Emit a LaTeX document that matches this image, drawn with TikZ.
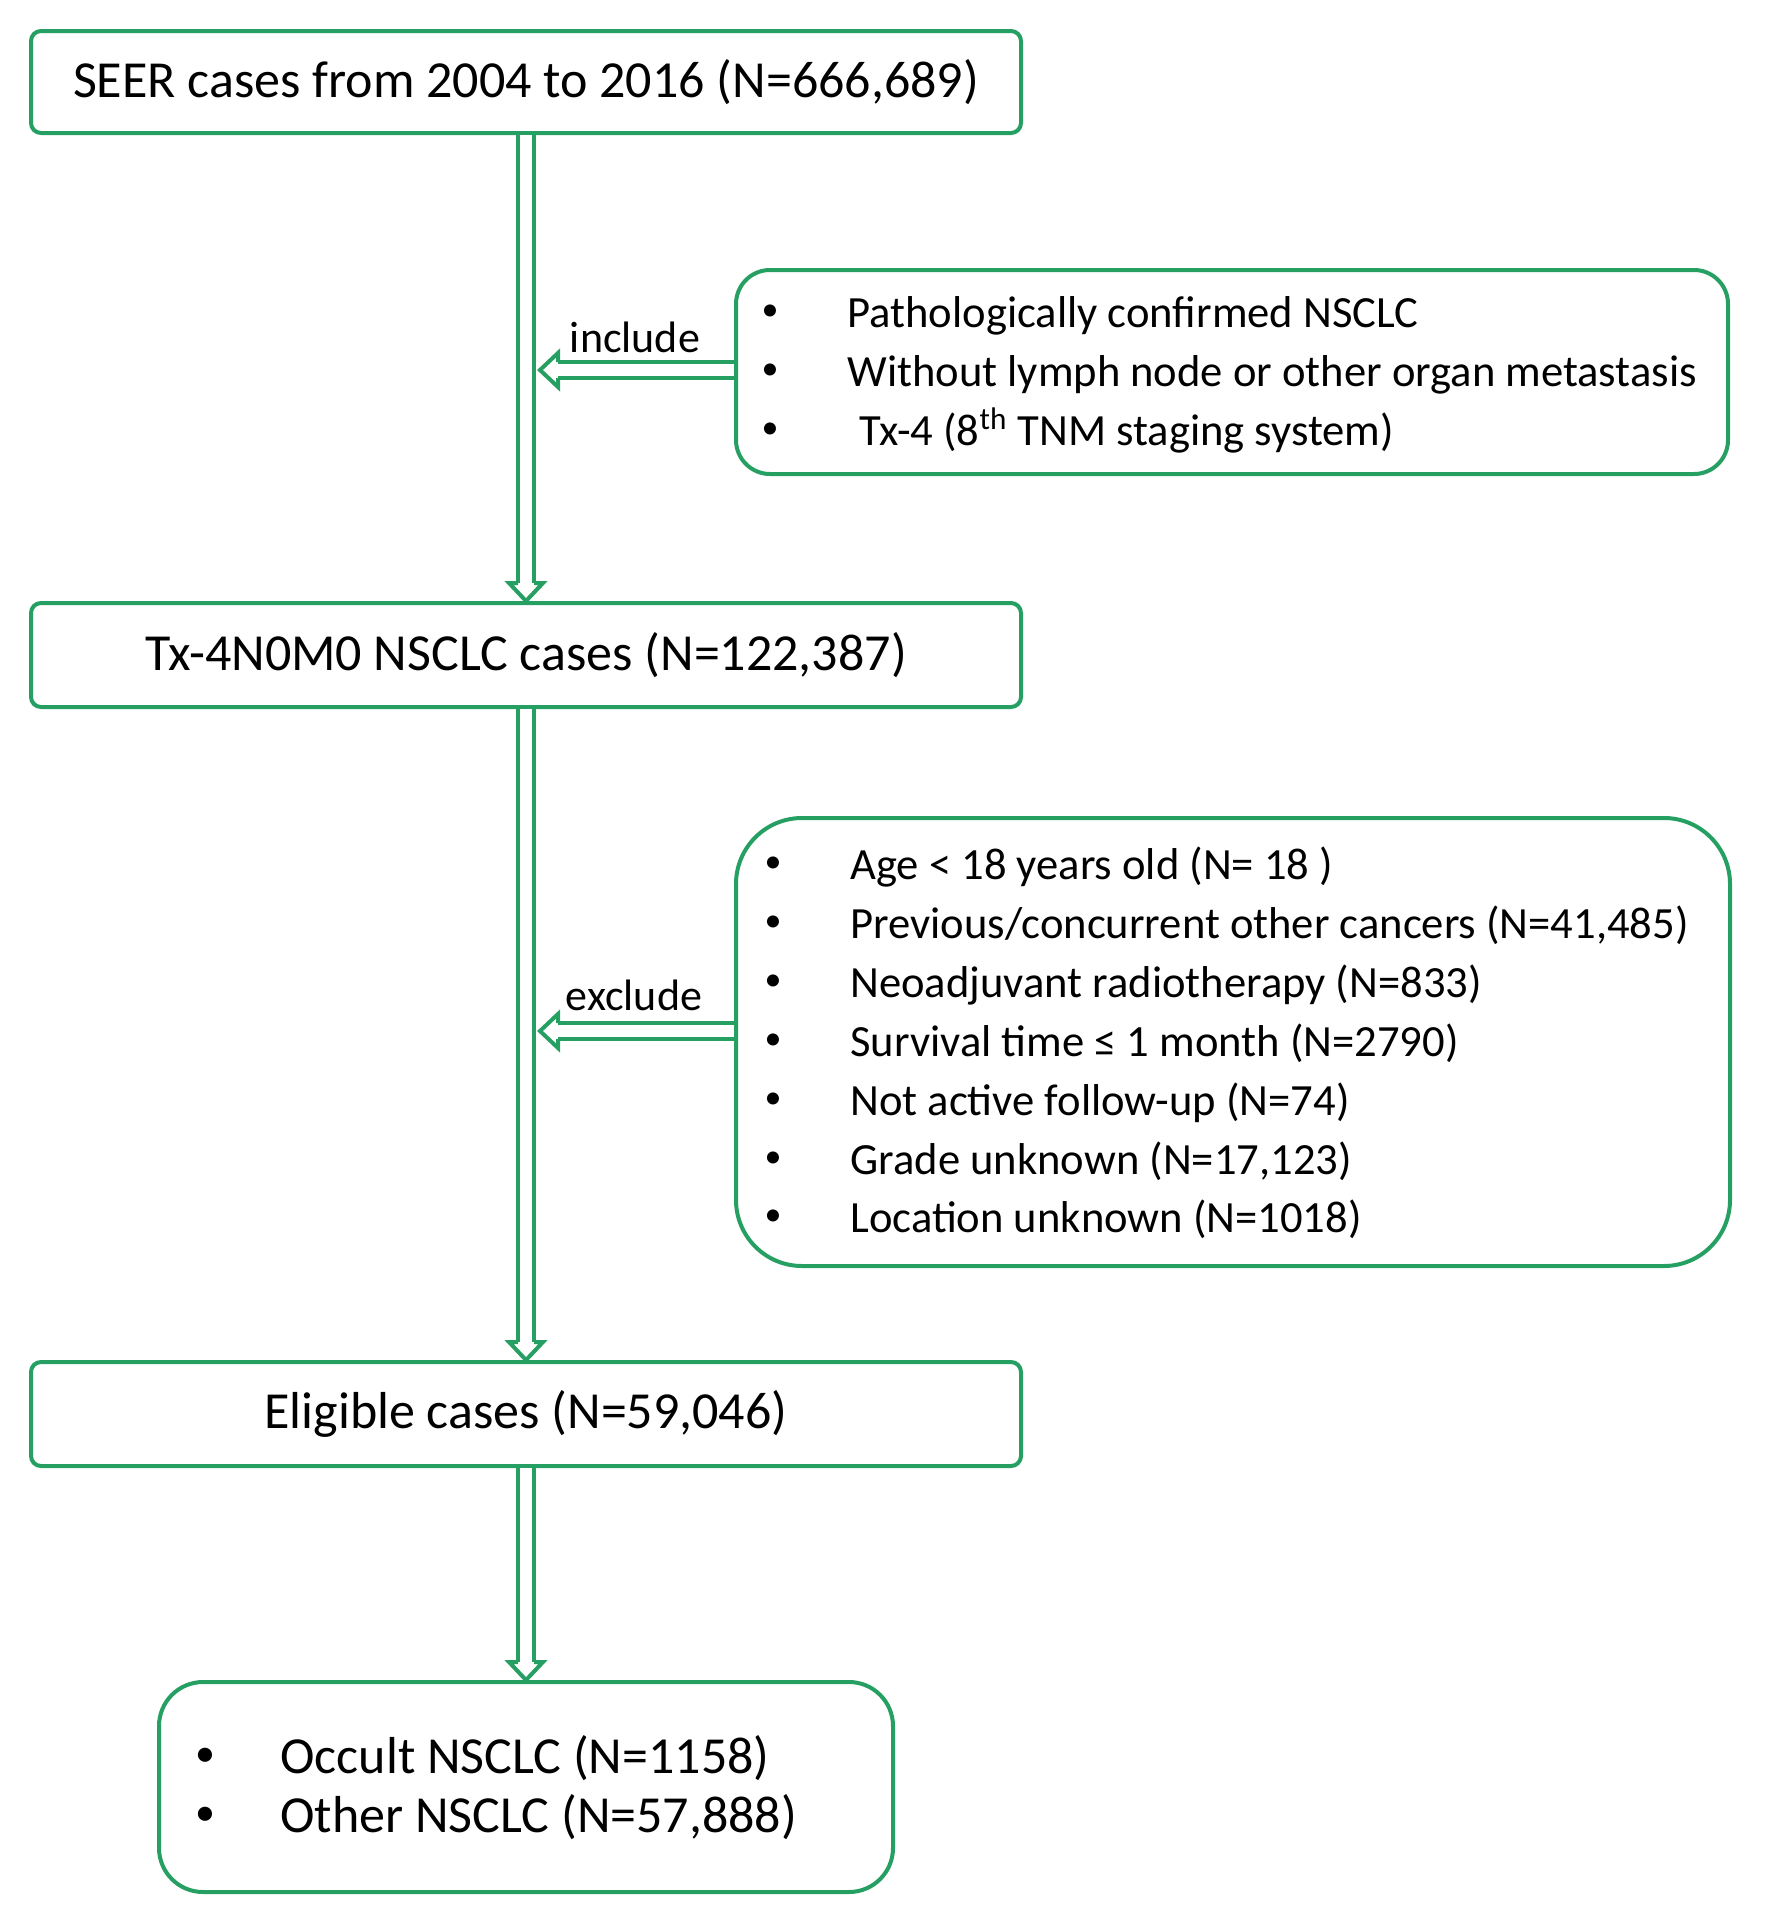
\documentclass[tikz,border=0pt]{standalone}
\usepackage{fontspec}
\setmainfont{Carlito}
\usetikzlibrary{calc}
\definecolor{G}{RGB}{38,160,98}
\tikzset{
  box/.style={draw=G, line width=2pt, fill=white, inner sep=0pt},
  shaft/.style={draw=G, line width=2pt, double=white, double distance=6pt},
  head/.style={draw=G, line width=2pt, line join=miter},
  big/.style={font=\fontsize{26}{30}\selectfont, inner sep=0pt},
  crit/.style={font=\fontsize{22.3}{26}\selectfont, inner sep=0pt, anchor=base west},
  fin/.style={font=\fontsize{26}{30}\selectfont, inner sep=0pt, anchor=base west},
  bul/.style={font=\fontsize{17}{19}\selectfont, inner sep=0pt, anchor=center},
  bulf/.style={font=\fontsize{20}{22}\selectfont, inner sep=0pt, anchor=center},
  lab/.style={font=\fontsize{22}{26}\selectfont, inner sep=0pt}
}
\begin{document}
\begin{tikzpicture}[x=0.5pt,y=-0.5pt]
\useasboundingbox (0,0) rectangle (1767,1928);
% main boxes
\node[box, rounded corners=5pt, minimum width=495pt, minimum height=51pt] (b1) at (526,82) {};
\node[big] (t1) at (b1.center) {SEER cases from 2004 to 2016 (N=666,689)};
\node[box, rounded corners=5pt, minimum width=495pt, minimum height=52pt] (b3) at (526,655) {};
\node[big] (t3) at (b3.center) {Tx-4N0M0 NSCLC cases (N=122,387)};
\node[box, rounded corners=5pt, minimum width=495pt, minimum height=52pt] (b5) at (526,1414) {};
\node[big] (t5) at (b5.center) {Eligible cases (N=59,046)};
\node[box, rounded corners=22pt, minimum width=367pt, minimum height=105pt] (b6) at (526,1787) {};
% criteria boxes
\node[box, rounded corners=17pt, minimum width=496pt, minimum height=102pt] (b2) at (1232,372) {};
\node[box, rounded corners=33pt, minimum width=497pt, minimum height=224pt] (b4) at (1233,1042) {};
% include list
\node[bul] (i1b) at (770,313) {•};
\node[crit] (i1) at (847,327) {Pathologically confirmed NSCLC};
\node[bul] (i2b) at (770,372) {•};
\node[crit] (i2) at (847,386) {Without lymph node or other organ metastasis};
\node[bul] (i3b) at (770,431) {•};
\node[crit] (i3) at (859,445) {Tx-4 (8\textsuperscript{th} TNM staging system)};
% exclude list
\node[bul] (e1b) at (773,865) {•};
\node[crit] (e1) at (850,879) {Age < 18 years old (N= 18 )};
\node[bul] (e2b) at (773,924) {•};
\node[crit] (e2) at (850,938) {Previous/concurrent other cancers (N=41,485)};
\node[bul] (e3b) at (773,983) {•};
\node[crit] (e3) at (850,997) {Neoadjuvant radiotherapy (N=833)};
\node[bul] (e4b) at (773,1042) {•};
\node[crit] (e4) at (850,1056) {Survival time ≤ 1 month (N=2790)};
\node[bul] (e5b) at (773,1101) {•};
\node[crit] (e5) at (850,1115) {Not active follow-up (N=74)};
\node[bul] (e6b) at (773,1160) {•};
\node[crit] (e6) at (850,1174) {Grade unknown (N=17,123)};
\node[bul] (e7b) at (773,1218) {•};
\node[crit] (e7) at (850,1232) {Location unknown (N=1018)};
% final list
\node[bulf] (f1b) at (205,1757) {•};
\node[fin] (f1) at (280,1773) {Occult NSCLC (N=1158)};
\node[bulf] (f2b) at (205,1816) {•};
\node[fin] (f2) at (280,1832) {Other NSCLC (N=57,888)};
% vertical arrows
\foreach \a/\b in {b1/b3, b3/b5, b5/b6}{
  \draw[shaft] (\a.south) -- ($(\b.north)+(0,-18)$);
  \draw[head] ($(\b.north)+(-8,-18)$) -- ($(\b.north)+(-17,-18)$) -- (\b.north)
     -- ($(\b.north)+(17,-18)$) -- ($(\b.north)+(8,-18)$);
}
% include arrow
\coordinate (ci) at ($(b1.south)!(b2.west)!(b3.north)$);
\draw[shaft] ($(b2.west)+(0,-2)$) -- ($(ci)+(32,-2)$);
\draw[head] ($(ci)+(32,-10)$) -- ($(ci)+(32,-19)$) -- ($(ci)+(14,-2)$)
   -- ($(ci)+(32,15)$) -- ($(ci)+(32,6)$);
\node[lab] (li) at (635,337) {include};
% exclude arrow
\coordinate (ce) at ($(b3.south)!($(b4.west)+(0,-11)$)!(b5.north)$);
\draw[shaft] ($(b4.west)+(0,-11)$) -- ($(ce)+(32,0)$);
\draw[head] ($(ce)+(32,-8)$) -- ($(ce)+(32,-17)$) -- ($(ce)+(14,0)$)
   -- ($(ce)+(32,17)$) -- ($(ce)+(32,8)$);
\node[lab] (le) at (634,995) {exclude};
\end{tikzpicture}
\end{document}
